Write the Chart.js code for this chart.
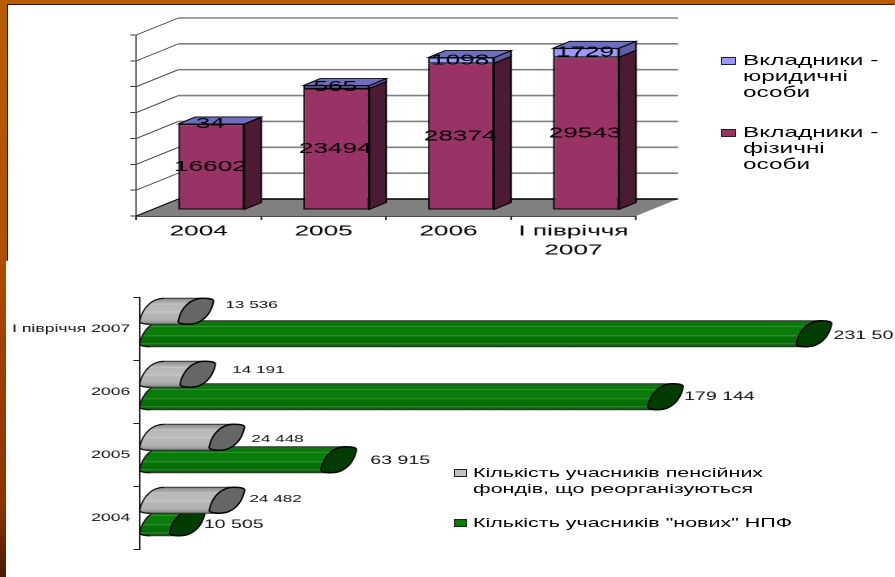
<!DOCTYPE html>
<html>
<head>
<meta charset="utf-8">
<script src="https://cdn.jsdelivr.net/npm/chart.js@4"></script>
<style>
  html, body { margin: 0; padding: 0; }
  body {
    width: 895px; height: 577px; overflow: hidden; position: relative;
    background: linear-gradient(180deg, #b85c00 0%, #b05200 40%, #a04000 60%, #8a3400 88%, #4a1a00 100%);
    font-family: "Liberation Sans", Arial, sans-serif; color: #000;
  }
  .panel { position: absolute; background: #fff; }
  #panelTop { left: 8px; top: 5px; width: 887px; height: 256px; box-shadow: -1px -1px 0 #2a1505; }
  #panelBottom { left: 6px; top: 261px; width: 889px; height: 316px; }
  canvas { position: absolute; transform-origin: 0 0; }
  .lgText { position: absolute; transform-origin: 0 0; white-space: pre-line; }
  .lgSwatch { position: absolute; box-sizing: border-box; border: 1px solid #222; }
</style>
</head>
<body>
<div class="panel" id="panelTop"></div>
<div class="panel" id="panelBottom"></div>
<canvas id="depositorsChart"></canvas>
<canvas id="membersChart"></canvas>

<script>
// --- data ---
const periodsTop = ['2004', '2005', '2006', ['І півріччя', '2007']];
const depositorsIndividual = [16602, 23494, 28374, 29543];
const depositorsLegal = [34, 565, 1098, 1729];
const nameIndividual = 'Вкладники -\nфізичні\nособи';
const nameLegal = 'Вкладники -\nюридичні\nособи';

const periodsBottom = ['І півріччя 2007', '2006', '2005', '2004'];
const membersReorganized = [13536, 14191, 24448, 24482];
const membersNew = [231500, 179144, 63915, 10505];
const nameReorganized = 'Кількість учасників пенсійних\nфондів, що реорганізуються';
const nameNew = 'Кількість учасників "нових" НПФ';

// the picture is stretched sideways, so both canvases are drawn narrow and widened by css
const STRETCH_TOP = 1.8;
const STRETCH_BOTTOM = 1.63;
const FONT = '"Liberation Sans", Arial, sans-serif';

function placeCanvas(id, left, top, width, height, stretch) {
  const c = document.getElementById(id);
  c.width = width / stretch;
  c.height = height;
  c.style.width = (width / stretch) + 'px';
  c.style.height = height + 'px';
  c.style.left = left + 'px';
  c.style.top = top + 'px';
  c.style.transform = 'scaleX(' + stretch + ')';
  return c;
}

function addLegend(x, y, swatchX, swatchW, color, text, size, lineH, stretch) {
  const t = document.createElement('div');
  t.className = 'lgText';
  t.textContent = text;
  t.style.cssText = 'left:' + x + 'px;top:' + (y - lineH / 2) + 'px;font-size:' + size + 'px;line-height:' + lineH + 'px;transform:scaleX(' + stretch + ')';
  document.body.appendChild(t);
  const s = document.createElement('div');
  s.className = 'lgSwatch';
  s.style.cssText = 'left:' + swatchX + 'px;top:' + (y - 4) + 'px;width:' + swatchW + 'px;height:8px;background:' + color;
  document.body.appendChild(s);
}

// --- top chart: 3d columns ---
const WALL_DX = 42 / STRETCH_TOP, WALL_DY = -17;     // front plane to back wall
const BAR_DX = 12.5 / STRETCH_TOP, BAR_DY = -6;      // front plane to front of the columns
const DEPTH_DX = 17 / STRETCH_TOP, DEPTH_DY = -7;    // column depth
const sideColors = ['#4d1a33', '#5f5fa8'];
const topColors = ['#4d1a33', '#6e6ec0'];

function poly(ctx, pts, fill, stroke, lw) {
  ctx.beginPath();
  pts.forEach((p, i) => i ? ctx.lineTo(p[0], p[1]) : ctx.moveTo(p[0], p[1]));
  ctx.closePath();
  if (fill) { ctx.fillStyle = fill; ctx.fill(); }
  if (stroke) { ctx.strokeStyle = stroke; ctx.lineWidth = lw; ctx.stroke(); }
}

const columns3d = {
  id: 'columns3d',
  beforeDatasetsDraw(chart) {
    const { ctx, chartArea: a } = chart;
    const y = chart.scales.y;
    ctx.save();
    // side wall lines and back wall grid
    y.ticks.forEach(t => {
      const py = y.getPixelForValue(t.value);
      ctx.beginPath();
      ctx.moveTo(a.left, py);
      ctx.lineTo(a.left + WALL_DX, py + WALL_DY);
      ctx.strokeStyle = '#222';
      ctx.lineWidth = 0.7;
      ctx.stroke();
      if (t.value > 0) {
        ctx.beginPath();
        ctx.moveTo(a.left + WALL_DX, py + WALL_DY);
        ctx.lineTo(a.right + WALL_DX, py + WALL_DY);
        ctx.strokeStyle = '#808080';
        ctx.lineWidth = 1.6;
        ctx.stroke();
      }
    });
    // floor
    poly(ctx, [[a.left, a.bottom], [a.left + WALL_DX, a.bottom + WALL_DY], [a.right + WALL_DX, a.bottom + WALL_DY], [a.right, a.bottom]], '#808080');
    ctx.strokeStyle = '#000';
    ctx.lineWidth = 1.6;
    ctx.beginPath();
    ctx.moveTo(a.left + WALL_DX, a.bottom + WALL_DY);
    ctx.lineTo(a.right + WALL_DX, a.bottom + WALL_DY);
    ctx.stroke();
    ctx.lineWidth = 0.8;
    ctx.beginPath();
    ctx.moveTo(a.left, a.bottom);
    ctx.lineTo(a.left + WALL_DX, a.bottom + WALL_DY);
    ctx.stroke();
    ctx.restore();
    ctx.save();
    ctx.translate(BAR_DX, BAR_DY);
  },
  afterDatasetsDraw(chart) {
    const { ctx } = chart;
    chart.data.datasets.forEach((ds, d) => {
      chart.getDatasetMeta(d).data.forEach((el, i) => {
        const l = el.x - el.width / 2, r = el.x + el.width / 2;
        poly(ctx, [[r, el.y], [r + DEPTH_DX, el.y + DEPTH_DY], [r + DEPTH_DX, el.base + DEPTH_DY], [r, el.base]], sideColors[d], '#000', 0.9);
        if (d === chart.data.datasets.length - 1) {
          poly(ctx, [[l, el.y], [l + DEPTH_DX, el.y + DEPTH_DY], [r + DEPTH_DX, el.y + DEPTH_DY], [r, el.y]], topColors[d], '#000', 0.9);
        }
      });
    });
    ctx.fillStyle = '#000';
    ctx.font = '14.5px ' + FONT;
    ctx.textAlign = 'center';
    ctx.textBaseline = 'middle';
    chart.data.datasets.forEach((ds, d) => {
      chart.getDatasetMeta(d).data.forEach((el, i) => {
        ctx.fillText(ds.data[i], el.x - 0.5, (el.y + el.base) / 2);
      });
    });
    ctx.restore();
  }
};

placeCanvas('depositorsChart', 8, 5, 887, 256, STRETCH_TOP);
new Chart(document.getElementById('depositorsChart'), {
  type: 'bar',
  data: {
    labels: periodsTop,
    datasets: [
      { label: nameIndividual, data: depositorsIndividual, backgroundColor: '#993366', borderColor: '#000', borderWidth: 1, borderSkipped: false },
      { label: nameLegal, data: depositorsLegal, backgroundColor: '#9999ff', borderColor: '#000', borderWidth: 1, borderSkipped: false }
    ]
  },
  options: {
    responsive: false,
    animation: false,
    devicePixelRatio: 2,
    layout: { padding: { top: 30, right: 887 / STRETCH_TOP - 628 / STRETCH_TOP } },
    plugins: { legend: { display: false }, tooltip: { enabled: false } },
    datasets: { bar: { categoryPercentage: 1, barPercentage: 0.528 } },
    scales: {
      x: {
        stacked: true,
        afterFit: s => { s.height = 45; },
        border: { color: '#111', width: 1.2 },
        grid: { drawOnChartArea: false, color: '#333', tickLength: 4 },
        ticks: { color: '#000', padding: 2, maxRotation: 0, font: { family: FONT, size: 14.5, lineHeight: 1.32 } }
      },
      y: {
        stacked: true,
        min: 0,
        max: 35000,
        afterFit: s => { s.width = 128 / STRETCH_TOP; },
        border: { color: '#555', width: 0.8 },
        grid: { drawOnChartArea: false, color: '#333', tickLength: 3.3 },
        ticks: { stepSize: 5000, display: false }
      }
    }
  },
  plugins: [columns3d]
});

addLegend(743, 61, 721, 15, '#9999ff', nameLegal, 14.5, 15.7, 1.68);
addLegend(743, 133, 721, 15, '#993366', nameIndividual, 14.5, 15.7, 1.68);

// --- bottom chart: slanted cylinders ---
const CAP_HALF_W = 17.5, CAP_TANGENT = 7;
const GROUP_SHIFT = -6.5;
// thin light stripes along the barrel
const bodyStops = [
  [[0, '#808080'], [0.08, '#9c9c9c'], [0.2, '#b4b4b4'], [0.22, '#cfcfcf'], [0.25, '#b8b8b8'], [0.5, '#bdbdbd'], [0.53, '#d0d0d0'], [0.56, '#b8b8b8'], [0.8, '#b2b2b2'], [0.9, '#a2a2a2'], [1, '#7a7a7a']],
  [[0, '#2a5a2a'], [0.08, '#0a780a'], [0.2, '#0a7a0a'], [0.22, '#45a045'], [0.25, '#0a7c0a'], [0.55, '#0a7c0a'], [0.58, '#3d9a3d'], [0.61, '#087408'], [0.86, '#066a06'], [0.89, '#4a9a4a'], [0.92, '#066406'], [1, '#1f4f1f']]
];
const capColors = ['#666666', '#003c00'];
// value labels sit by hand in the picture: gap after the cap, shift from the bar middle
const labelGapX = [[12, 17, 7, 5], [2, 1, 14, -1]];
const labelShiftY = [[-6, -4, 2, -1], [2, 0, 1, 2]];
const labelSizes = [10.5, 12];

// slanted blunt oval in screen px around (cx, cy): left half from bottom to top
function capLeft(ctx, cx, cy, k) {
  ctx.moveTo(cx - CAP_TANGENT, cy + 13 * k);
  ctx.bezierCurveTo(cx - 14, cy + 13 * k, cx - 19, cy + 12 * k, cx - 17.5, cy + 9 * k);
  ctx.bezierCurveTo(cx - 15, cy - 3 * k, cx - 6, cy - 13 * k, cx + CAP_TANGENT, cy - 13 * k);
}
// right half from top back to bottom
function capRight(ctx, cx, cy, k) {
  ctx.bezierCurveTo(cx + 14, cy - 13 * k, cx + 19, cy - 12 * k, cx + 17.5, cy - 9 * k);
  ctx.bezierCurveTo(cx + 15, cy + 3 * k, cx + 6, cy + 13 * k, cx - CAP_TANGENT, cy + 13 * k);
}

const cylinders = {
  id: 'cylinders',
  beforeDatasetDraw(chart, args) {
    const { ctx } = chart;
    const d = args.index;
    const sx = 1 / STRETCH_BOTTOM;
    args.meta.data.forEach(el => {
      const top = el.y - el.height / 2 + GROUP_SHIFT;
      const bot = el.y + el.height / 2 + GROUP_SHIFT;
      const cy = (top + bot) / 2;
      const k = el.height / 26;
      const grad = ctx.createLinearGradient(0, top, 0, bot);
      bodyStops[d].forEach(s => grad.addColorStop(s[0], s[1]));
      // the caps keep their shape in screen pixels, so undo the stretch while drawing them
      const cx0 = el.base / sx + CAP_HALF_W;
      const cx1 = el.x / sx + CAP_HALF_W;
      ctx.save();
      ctx.lineJoin = 'round';
      ctx.scale(sx, 1);
      ctx.beginPath();
      capLeft(ctx, cx0, cy, k);
      ctx.lineTo(cx1 + CAP_TANGENT, cy - 13 * k);
      ctx.lineTo(cx1 - CAP_TANGENT, cy + 13 * k);
      ctx.closePath();
      ctx.fillStyle = grad;
      ctx.fill();
      ctx.beginPath();
      capLeft(ctx, cx0, cy, k);
      ctx.strokeStyle = '#111';
      ctx.lineWidth = 1.3;
      ctx.stroke();
      ctx.beginPath();
      ctx.moveTo(cx0 + CAP_TANGENT, cy - 13 * k);
      ctx.lineTo(cx1 + CAP_TANGENT, cy - 13 * k);
      ctx.moveTo(cx0 - CAP_TANGENT, cy + 13 * k);
      ctx.lineTo(cx1 - CAP_TANGENT, cy + 13 * k);
      ctx.strokeStyle = '#333';
      ctx.lineWidth = 1;
      ctx.stroke();
      // end cap
      ctx.beginPath();
      capLeft(ctx, cx1, cy, k);
      capRight(ctx, cx1, cy, k);
      ctx.closePath();
      ctx.fillStyle = capColors[d];
      ctx.fill();
      ctx.strokeStyle = '#000';
      ctx.lineWidth = 1.5;
      ctx.stroke();
      ctx.restore();
    });
    return false;
  },
  afterDatasetsDraw(chart) {
    const { ctx } = chart;
    const sx = 1 / STRETCH_BOTTOM;
    ctx.save();
    ctx.fillStyle = '#111';
    ctx.textAlign = 'left';
    ctx.textBaseline = 'middle';
    chart.data.datasets.forEach((ds, d) => {
      ctx.font = labelSizes[d] + 'px ' + FONT;
      chart.getDatasetMeta(d).data.forEach((el, i) => {
        const text = String(ds.data[i]).replace(/\B(?=(\d{3})+$)/g, ' ');
        const x = el.x + (2 * CAP_HALF_W + labelGapX[d][i]) * sx;
        ctx.fillText(text, x, el.y + GROUP_SHIFT + labelShiftY[d][i]);
      });
    });
    ctx.restore();
  }
};

placeCanvas('membersChart', 6, 261, 889, 316, STRETCH_BOTTOM);
new Chart(document.getElementById('membersChart'), {
  type: 'bar',
  data: {
    labels: periodsBottom,
    datasets: [
      { label: nameReorganized, data: membersReorganized, backgroundColor: '#b3b3b3' },
      { label: nameNew, data: membersNew, backgroundColor: '#007a00' }
    ]
  },
  options: {
    indexAxis: 'y',
    responsive: false,
    animation: false,
    devicePixelRatio: 2,
    layout: { padding: { top: 36.5, bottom: 27.5 } },
    plugins: { legend: { display: false }, tooltip: { enabled: false } },
    datasets: { bar: { categoryPercentage: 0.714, barPercentage: 1.155 } },
    scales: {
      x: { display: false, min: 0, max: 266000 },
      y: {
        afterFit: s => { s.width = 134 / STRETCH_BOTTOM; },
        border: { color: '#222', width: 1 },
        grid: { drawOnChartArea: false, color: '#222', tickLength: 4 },
        ticks: { color: '#111', padding: 2, font: { family: FONT, size: 10.8 } }
      }
    }
  },
  plugins: [cylinders]
});

addLegend(473, 473, 454, 13, '#c0c0c0', nameReorganized, 13, 16, 1.65);
addLegend(473, 523, 454, 13, '#008000', nameNew, 13, 16, 1.65);
</script>
</body>
</html>
